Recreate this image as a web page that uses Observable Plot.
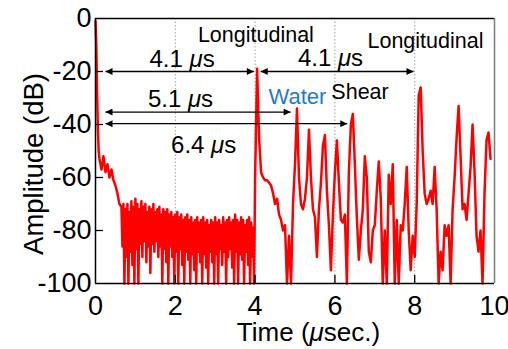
<!DOCTYPE html>
<html><head><meta charset="utf-8">
<script src="https://cdn.jsdelivr.net/npm/d3@7"></script>
<script src="https://cdn.jsdelivr.net/npm/@observablehq/plot@0.6"></script>
<style>body{margin:0;background:#fff}</style>
</head><body><div id="chart"></div>
<script>
// ---- data ----
const xTicks = [0, 2, 4, 6, 8, 10];
const yTicks = [0, -20, -40, -60, -80, -100];
const gridTimes = [2, 4, 6, 8];
const innerYTicks = [-20, -40, -60, -80];

// [time (µs), amplitude (dB)]
const ringdown = [[0,-1],[0.02,-10],[0.04,-28],[0.06,-42],[0.08,-50],[0.10,-53],[0.15,-57],[0.20,-52],[0.25,-58],[0.30,-55],[0.35,-60],[0.40,-57],[0.45,-61],[0.50,-63],[0.55,-66],[0.60,-70]];
// noise floor before the first echo: upper and lower excursions
const noiseUpper = [[0.65,-71],[0.70,-70],[0.75,-72],[0.80,-70],[0.85,-73],[0.90,-69],[0.95,-71],[1.00,-68],[1.05,-70],[1.10,-72],[1.15,-69],[1.20,-71],[1.25,-70],[1.30,-73],[1.35,-71],[1.40,-72],[1.45,-70],[1.50,-73],[1.55,-72],[1.60,-71],[1.65,-74],[1.70,-72],[1.75,-73],[1.80,-72],[1.85,-74],[1.90,-73],[1.95,-75],[2.00,-74],[2.05,-73],[2.10,-75],[2.15,-74],[2.20,-76],[2.25,-75],[2.30,-74],[2.35,-76],[2.40,-75],[2.45,-77],[2.50,-76],[2.55,-75],[2.60,-77],[2.65,-76],[2.70,-75],[2.75,-77],[2.80,-76],[2.85,-78],[2.90,-76],[2.95,-77],[3.00,-75],[3.05,-77],[3.10,-76],[3.15,-78],[3.20,-75],[3.25,-77],[3.30,-76],[3.35,-75],[3.40,-77],[3.45,-76],[3.50,-74],[3.55,-76],[3.60,-77],[3.65,-75],[3.70,-76],[3.75,-78],[3.80,-76],[3.85,-75],[3.90,-77],[3.95,-79]];
const noiseLower = [[0.675,-86],[0.725,-100],[0.775,-90],[0.825,-100],[0.875,-88],[0.925,-93],[0.975,-100],[1.025,-87],[1.075,-100],[1.125,-85],[1.175,-90],[1.225,-84],[1.275,-92],[1.325,-86],[1.375,-96],[1.425,-85],[1.475,-88],[1.525,-84],[1.575,-90],[1.625,-86],[1.675,-100],[1.725,-87],[1.775,-92],[1.825,-100],[1.875,-86],[1.925,-90],[1.975,-100],[2.025,-88],[2.075,-100],[2.125,-87],[2.175,-93],[2.225,-100],[2.275,-88],[2.325,-91],[2.375,-100],[2.425,-89],[2.475,-95],[2.525,-100],[2.575,-88],[2.625,-92],[2.675,-100],[2.725,-89],[2.775,-94],[2.825,-100],[2.875,-88],[2.925,-92],[2.975,-100],[3.025,-89],[3.075,-100],[3.125,-87],[3.175,-93],[3.225,-88],[3.275,-100],[3.325,-90],[3.375,-87],[3.425,-94],[3.475,-100],[3.525,-88],[3.575,-100],[3.625,-89],[3.675,-91],[3.725,-100],[3.775,-88],[3.825,-93],[3.875,-100],[3.925,-90],[3.975,-100]];
const firstEcho = [[4.00,-60],[4.05,-19],[4.10,-45],[4.15,-58],[4.20,-60],[4.25,-61],[4.30,-61],[4.35,-62],[4.40,-63],[4.45,-66],[4.50,-70],[4.55,-68],[4.60,-74],[4.65,-76],[4.70,-80],[4.75,-78],[4.80,-100],[4.85,-82],[4.90,-100],[4.95,-70]];
const laterEchoes = [[5.00,-55],[5.05,-34],[5.10,-60],[5.15,-70],[5.20,-72],[5.25,-68],[5.30,-60],[5.35,-42],[5.40,-60],[5.45,-72],[5.50,-75],[5.55,-90],[5.60,-72],[5.65,-62],[5.70,-48],[5.75,-44],[5.80,-65],[5.85,-78],[5.90,-95],[5.95,-74],[6.00,-58],[6.05,-46],[6.10,-62],[6.15,-76],[6.20,-77],[6.25,-74],[6.30,-100],[6.35,-58],[6.40,-40],[6.45,-36],[6.50,-55],[6.55,-75],[6.60,-91],[6.65,-80],[6.70,-72],[6.75,-52],[6.80,-60],[6.85,-88],[6.90,-92],[6.95,-80],[7.00,-78],[7.05,-65],[7.10,-54],[7.15,-68],[7.20,-100],[7.25,-80],[7.30,-100],[7.35,-59],[7.40,-70],[7.45,-55],[7.50,-100],[7.55,-76],[7.60,-100],[7.65,-78],[7.70,-80],[7.75,-70],[7.80,-56],[7.85,-80],[7.90,-95],[7.95,-82],[8.00,-90],[8.05,-70],[8.10,-29],[8.15,-26],[8.20,-50],[8.25,-66],[8.30,-70],[8.35,-68],[8.40,-65],[8.45,-70],[8.50,-56],[8.55,-72],[8.60,-100],[8.65,-88],[8.70,-95],[8.75,-78],[8.80,-82],[8.85,-78],[8.90,-100],[8.95,-72],[9.00,-60],[9.05,-45],[9.10,-33],[9.15,-52],[9.20,-72],[9.25,-70],[9.30,-76],[9.35,-66],[9.40,-56],[9.45,-40],[9.50,-58],[9.55,-82],[9.60,-88],[9.65,-80],[9.70,-100],[9.75,-66],[9.80,-46],[9.85,-43],[9.90,-53]];

const arrowStartUs = [0.25, 4.14, 0.25, 0.25];
const arrowEndUs = [3.97, 7.97, 4.89, 6.31];
const arrowLevelDb = [-20, -20, -35.3, -39.7];

const labelTexts = ["Longitudinal", "Longitudinal", "4.1 μs", "4.1 μs", "5.1 μs", "6.4 μs", "Water", "Shear"];
const labelX = [4.02, 8.27, 2.17, 5.89, 2.13, 2.71, 5.06, 6.63];
const labelBaselineDb = [-8.9, -11.3, -18.3, -18.1, -33.4, -50.8, -32.4, -30.5];
const labelColors = ["#000", "#000", "#000", "#000", "#000", "#000", "#1f7bd0", "#000"];
const labelSizes = [21.5, 21.5, 24, 24, 24, 24, 22, 21.5];

// ---- build tables ----
const signal = [...ringdown, ...noiseUpper, ...noiseLower, ...firstEcho, ...laterEchoes]
  .map(([t, a]) => ({t, a}))
  .sort((p, q) => p.t - q.t);
const arrows = arrowStartUs.map((s, i) => ({x1: s, x2: arrowEndUs[i], y: arrowLevelDb[i]}));
const labels = labelTexts.map((s, i) => ({text: s, x: labelX[i], y: labelBaselineDb[i], color: labelColors[i], size: labelSizes[i]}));

const FONT = "'Liberation Sans', Arial, sans-serif";
const textMarks = [...new Set(labelSizes)].map(sz =>
  Plot.text(labels.filter(d => d.size === sz), {x: "x", y: "y", text: "text", fill: d => d.color, fontSize: sz, dy: -0.32 * sz, textAnchor: "middle", lineAnchor: "middle"})
);

const plot = Plot.plot({
  width: 508, height: 349,
  marginLeft: 95, marginTop: 18, marginRight: 14, marginBottom: 66,
  style: {fontFamily: FONT, fontSize: "27px", background: "#fff", color: "#000"},
  x: {domain: [0, 10], ticks: xTicks, tickSize: 0, tickPadding: 12, tickFormat: d => String(d), label: null},
  y: {domain: [-100, 0], ticks: yTicks, tickSize: 0, tickPadding: 4, tickFormat: d => String(d), label: null},
  marks: [
    Plot.ruleX(gridTimes, {stroke: "#a0a0a0", strokeDasharray: "1.5,2", strokeWidth: 1}),
    Plot.line(signal, {x: "t", y: "a", stroke: "#ff0000", strokeWidth: 2.5, strokeLinejoin: "round"}),
    Plot.link(arrows, {x1: "x1", x2: "x2", y1: "y", y2: "y", stroke: "#000", strokeWidth: 1.3}),
    ...textMarks,
    Plot.ruleY(innerYTicks, {x1: 0, x2: 0.2, stroke: "#000", strokeWidth: 1.3}),
    Plot.ruleX(gridTimes, {y1: -100, y2: -97, stroke: "#000", strokeWidth: 1.3}),
    Plot.ruleY([0], {stroke: "#000", strokeWidth: 1.5}),
    Plot.ruleX([10], {stroke: "#7a7a7a", strokeWidth: 1.5}),
    Plot.ruleX([0], {stroke: "#000", strokeWidth: 1.5}),
    Plot.ruleY([-100], {stroke: "#000", strokeWidth: 1.5}),
    Plot.text(["Time (μsec.)"], {text: d => d, frameAnchor: "bottom", textAnchor: "middle", lineAnchor: "middle", dx: 13.5, dy: 49, fontSize: 26}),
    Plot.text(["Amplitude (dB)"], {text: d => d, frameAnchor: "left", textAnchor: "middle", lineAnchor: "middle", rotate: -90, dx: -61, dy: 13, fontSize: 27.5})
  ]
});
document.getElementById("chart").appendChild(plot);

// filled arrowheads on the dimension links
const ns = "http://www.w3.org/2000/svg";
const defs = document.createElementNS(ns, "defs");
const marker = document.createElementNS(ns, "marker");
marker.setAttribute("id", "ahead");
marker.setAttribute("viewBox", "0 0 10 10");
marker.setAttribute("refX", "10");
marker.setAttribute("refY", "5");
marker.setAttribute("markerWidth", "9");
marker.setAttribute("markerHeight", "7");
marker.setAttribute("markerUnits", "userSpaceOnUse");
marker.setAttribute("orient", "auto-start-reverse");
const mp = document.createElementNS(ns, "path");
mp.setAttribute("d", "M0,0L10,5L0,10Z");
mp.setAttribute("fill", "#000");
marker.appendChild(mp);
defs.appendChild(marker);
plot.insertBefore(defs, plot.firstChild);
plot.querySelectorAll('g[aria-label="link"] path').forEach(p => {
  p.setAttribute("marker-start", "url(#ahead)");
  p.setAttribute("marker-end", "url(#ahead)");
});

// italic µ as in the original
plot.querySelectorAll("text").forEach(t => {
  if (t.childElementCount === 0 && t.textContent.includes("μ")) {
    const parts = t.textContent.split("μ");
    t.textContent = "";
    parts.forEach((p, i) => {
      if (i > 0) {
        const ts = document.createElementNS(ns, "tspan");
        ts.setAttribute("font-style", "italic");
        ts.textContent = "μ";
        t.appendChild(ts);
      }
      if (p) t.appendChild(document.createTextNode(p));
    });
  }
});
</script>
</body></html>
